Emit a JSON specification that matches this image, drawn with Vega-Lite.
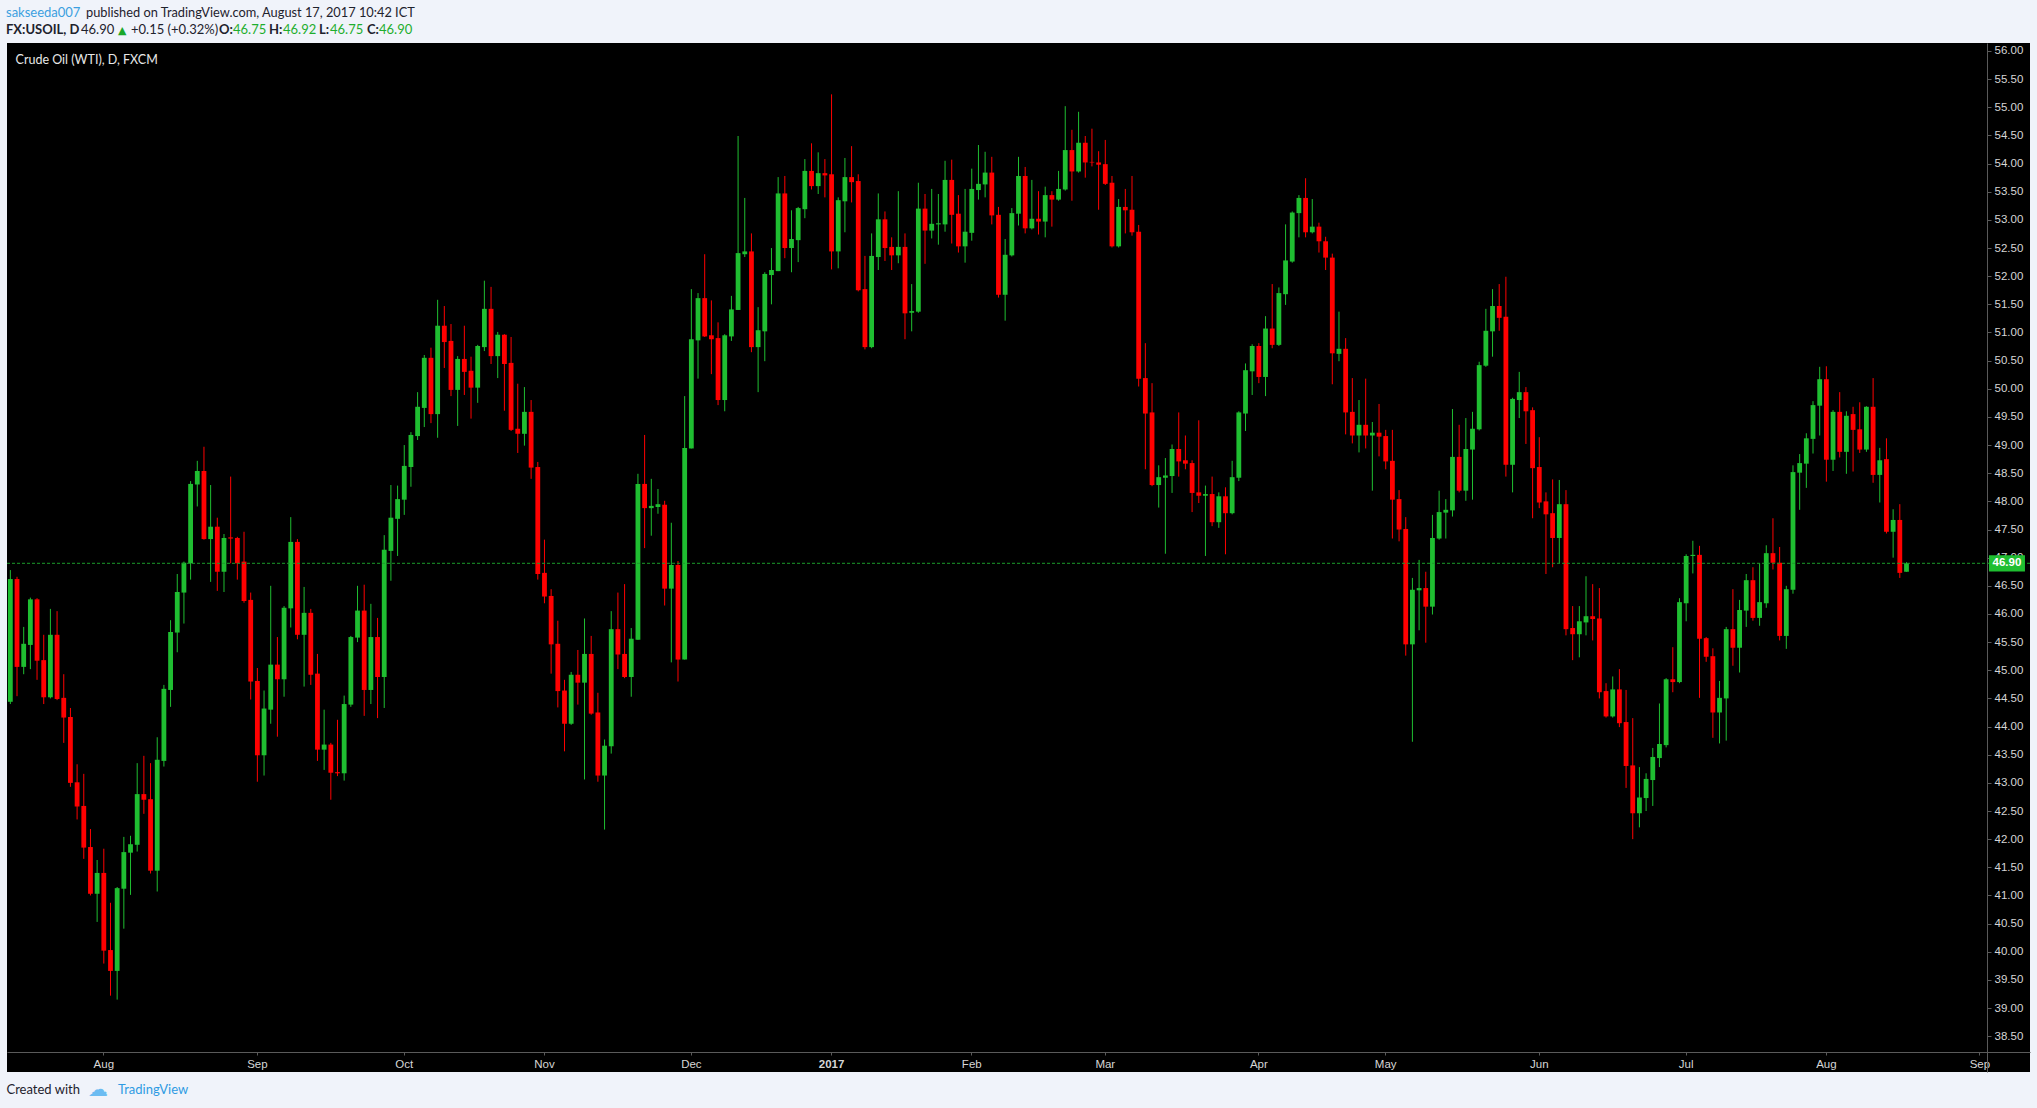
{
"$schema": "https://vega.github.io/schema/vega-lite/v6.json",
"width": 2023, "height": 1029,
"autosize": {"type": "none"},
"padding": {"left": 7, "top": 43, "right": 7, "bottom": 36},
"background": "#f0f3fa",
"config": {"view": {"fill": "#000000", "stroke": null}},
"data": {"values": [
{"date":"2016-07-12","open":44.44,"high":46.78,"low":44.40,"close":46.62},
{"date":"2016-07-13","open":46.62,"high":46.66,"low":44.54,"close":45.06},
{"date":"2016-07-14","open":45.06,"high":45.77,"low":44.93,"close":45.47},
{"date":"2016-07-15","open":45.45,"high":46.29,"low":45.02,"close":46.26},
{"date":"2016-07-18","open":46.26,"high":46.28,"low":44.83,"close":45.17},
{"date":"2016-07-19","open":45.18,"high":45.63,"low":44.40,"close":44.52},
{"date":"2016-07-20","open":44.52,"high":46.09,"low":44.50,"close":45.63},
{"date":"2016-07-21","open":45.63,"high":46.05,"low":44.47,"close":44.49},
{"date":"2016-07-22","open":44.51,"high":44.93,"low":43.71,"close":44.16},
{"date":"2016-07-25","open":44.17,"high":44.33,"low":42.93,"close":43.00},
{"date":"2016-07-26","open":43.01,"high":43.33,"low":42.35,"close":42.58},
{"date":"2016-07-27","open":42.59,"high":43.16,"low":41.65,"close":41.85},
{"date":"2016-07-28","open":41.86,"high":42.18,"low":41.00,"close":41.03},
{"date":"2016-07-29","open":41.03,"high":41.63,"low":40.53,"close":41.40},
{"date":"2016-08-01","open":41.40,"high":41.83,"low":39.79,"close":40.02},
{"date":"2016-08-02","open":40.03,"high":40.87,"low":39.22,"close":39.66},
{"date":"2016-08-03","open":39.66,"high":41.15,"low":39.15,"close":41.13},
{"date":"2016-08-04","open":41.12,"high":42.04,"low":40.41,"close":41.77},
{"date":"2016-08-05","open":41.76,"high":42.06,"low":41.01,"close":41.91},
{"date":"2016-08-08","open":41.90,"high":43.35,"low":41.78,"close":42.80},
{"date":"2016-08-09","open":42.80,"high":43.48,"low":42.45,"close":42.70},
{"date":"2016-08-10","open":42.71,"high":43.35,"low":41.39,"close":41.44},
{"date":"2016-08-11","open":41.44,"high":43.81,"low":41.07,"close":43.41},
{"date":"2016-08-12","open":43.39,"high":44.74,"low":43.29,"close":44.67},
{"date":"2016-08-15","open":44.65,"high":45.89,"low":44.35,"close":45.68},
{"date":"2016-08-16","open":45.67,"high":46.71,"low":45.32,"close":46.39},
{"date":"2016-08-17","open":46.38,"high":46.93,"low":45.83,"close":46.91},
{"date":"2016-08-18","open":46.90,"high":48.36,"low":46.61,"close":48.31},
{"date":"2016-08-19","open":48.30,"high":48.72,"low":47.91,"close":48.54},
{"date":"2016-08-22","open":48.54,"high":48.97,"low":47.32,"close":47.33},
{"date":"2016-08-23","open":47.33,"high":48.29,"low":46.57,"close":47.55},
{"date":"2016-08-24","open":47.55,"high":47.71,"low":46.41,"close":46.75},
{"date":"2016-08-25","open":46.75,"high":47.42,"low":46.39,"close":47.35},
{"date":"2016-08-26","open":47.36,"high":48.44,"low":46.90,"close":47.34},
{"date":"2016-08-29","open":47.35,"high":47.37,"low":46.61,"close":46.90},
{"date":"2016-08-30","open":46.93,"high":47.46,"low":46.20,"close":46.23},
{"date":"2016-08-31","open":46.25,"high":46.38,"low":44.48,"close":44.80},
{"date":"2016-09-01","open":44.81,"high":45.04,"low":43.02,"close":43.49},
{"date":"2016-09-02","open":43.49,"high":44.64,"low":43.13,"close":44.32},
{"date":"2016-09-05","open":44.30,"high":46.50,"low":44.05,"close":45.10},
{"date":"2016-09-06","open":45.10,"high":45.59,"low":43.82,"close":44.84},
{"date":"2016-09-07","open":44.84,"high":46.14,"low":44.53,"close":46.11},
{"date":"2016-09-08","open":46.10,"high":47.72,"low":45.76,"close":47.28},
{"date":"2016-09-09","open":47.28,"high":47.33,"low":45.55,"close":45.63},
{"date":"2016-09-12","open":45.63,"high":46.48,"low":44.71,"close":46.02},
{"date":"2016-09-13","open":46.02,"high":46.09,"low":44.74,"close":44.92},
{"date":"2016-09-14","open":44.94,"high":45.29,"low":43.39,"close":43.59},
{"date":"2016-09-15","open":43.59,"high":44.30,"low":43.23,"close":43.68},
{"date":"2016-09-16","open":43.68,"high":43.71,"low":42.70,"close":43.18},
{"date":"2016-09-19","open":43.19,"high":44.12,"low":43.12,"close":43.17},
{"date":"2016-09-20","open":43.17,"high":44.55,"low":43.04,"close":44.40},
{"date":"2016-09-21","open":44.39,"high":45.61,"low":44.35,"close":45.59},
{"date":"2016-09-22","open":45.58,"high":46.50,"low":45.50,"close":46.06},
{"date":"2016-09-23","open":46.06,"high":46.52,"low":44.19,"close":44.65},
{"date":"2016-09-26","open":44.65,"high":46.18,"low":44.40,"close":45.59},
{"date":"2016-09-27","open":45.59,"high":45.93,"low":44.15,"close":44.88},
{"date":"2016-09-28","open":44.88,"high":47.40,"low":44.33,"close":47.14},
{"date":"2016-09-29","open":47.12,"high":48.29,"low":46.59,"close":47.71},
{"date":"2016-09-30","open":47.69,"high":48.28,"low":47.03,"close":48.04},
{"date":"2016-10-03","open":48.03,"high":49.00,"low":47.76,"close":48.63},
{"date":"2016-10-04","open":48.61,"high":49.23,"low":48.26,"close":49.18},
{"date":"2016-10-05","open":49.16,"high":49.94,"low":49.09,"close":49.68},
{"date":"2016-10-06","open":49.66,"high":50.60,"low":49.32,"close":50.55},
{"date":"2016-10-07","open":50.55,"high":50.73,"low":49.39,"close":49.55},
{"date":"2016-10-10","open":49.55,"high":51.58,"low":49.13,"close":51.12},
{"date":"2016-10-11","open":51.12,"high":51.47,"low":50.37,"close":50.83},
{"date":"2016-10-12","open":50.85,"high":51.15,"low":49.87,"close":49.98},
{"date":"2016-10-13","open":49.98,"high":50.58,"low":49.34,"close":50.53},
{"date":"2016-10-14","open":50.53,"high":51.12,"low":49.89,"close":50.30},
{"date":"2016-10-17","open":50.32,"high":50.57,"low":49.47,"close":50.02},
{"date":"2016-10-18","open":50.02,"high":50.78,"low":49.75,"close":50.76},
{"date":"2016-10-19","open":50.74,"high":51.92,"low":50.67,"close":51.42},
{"date":"2016-10-20","open":51.42,"high":51.81,"low":50.44,"close":50.58},
{"date":"2016-10-21","open":50.58,"high":51.01,"low":50.19,"close":50.96},
{"date":"2016-10-24","open":50.96,"high":50.97,"low":49.61,"close":50.44},
{"date":"2016-10-25","open":50.46,"high":50.92,"low":49.25,"close":49.27},
{"date":"2016-10-26","open":49.29,"high":50.09,"low":48.86,"close":49.20},
{"date":"2016-10-27","open":49.20,"high":50.03,"low":48.99,"close":49.59},
{"date":"2016-10-28","open":49.59,"high":49.80,"low":48.40,"close":48.60},
{"date":"2016-10-31","open":48.61,"high":48.70,"low":46.61,"close":46.71},
{"date":"2016-11-01","open":46.73,"high":47.32,"low":46.19,"close":46.31},
{"date":"2016-11-02","open":46.32,"high":46.44,"low":44.94,"close":45.46},
{"date":"2016-11-03","open":45.47,"high":45.88,"low":44.34,"close":44.63},
{"date":"2016-11-04","open":44.64,"high":44.83,"low":43.56,"close":44.05},
{"date":"2016-11-07","open":44.05,"high":44.97,"low":44.03,"close":44.92},
{"date":"2016-11-08","open":44.92,"high":45.36,"low":44.39,"close":44.78},
{"date":"2016-11-09","open":44.78,"high":45.92,"low":43.06,"close":45.29},
{"date":"2016-11-10","open":45.29,"high":45.61,"low":44.21,"close":44.23},
{"date":"2016-11-11","open":44.25,"high":44.60,"low":43.02,"close":43.13},
{"date":"2016-11-14","open":43.13,"high":43.77,"low":42.17,"close":43.66},
{"date":"2016-11-15","open":43.65,"high":46.05,"low":43.52,"close":45.73},
{"date":"2016-11-16","open":45.73,"high":46.38,"low":45.02,"close":45.28},
{"date":"2016-11-17","open":45.29,"high":46.53,"low":44.86,"close":44.88},
{"date":"2016-11-18","open":44.88,"high":45.75,"low":44.53,"close":45.56},
{"date":"2016-11-21","open":45.54,"high":48.49,"low":45.54,"close":48.31},
{"date":"2016-11-22","open":48.31,"high":49.18,"low":47.17,"close":47.88},
{"date":"2016-11-23","open":47.88,"high":48.40,"low":47.39,"close":47.92},
{"date":"2016-11-24","open":47.90,"high":48.22,"low":47.78,"close":47.95},
{"date":"2016-11-25","open":47.94,"high":48.01,"low":46.15,"close":46.45},
{"date":"2016-11-28","open":46.45,"high":47.62,"low":45.14,"close":46.87},
{"date":"2016-11-29","open":46.87,"high":46.94,"low":44.80,"close":45.19},
{"date":"2016-11-30","open":45.19,"high":49.87,"low":45.19,"close":48.95},
{"date":"2016-12-01","open":48.94,"high":51.77,"low":48.94,"close":50.88},
{"date":"2016-12-02","open":50.86,"high":51.70,"low":50.18,"close":51.61},
{"date":"2016-12-05","open":51.61,"high":52.39,"low":50.92,"close":50.93},
{"date":"2016-12-06","open":50.95,"high":51.57,"low":50.26,"close":50.88},
{"date":"2016-12-07","open":50.90,"high":51.18,"low":49.71,"close":49.80},
{"date":"2016-12-08","open":49.80,"high":50.97,"low":49.60,"close":50.95},
{"date":"2016-12-09","open":50.93,"high":51.65,"low":50.85,"close":51.41},
{"date":"2016-12-12","open":51.40,"high":54.49,"low":51.40,"close":52.41},
{"date":"2016-12-13","open":52.39,"high":53.39,"low":52.34,"close":52.44},
{"date":"2016-12-14","open":52.44,"high":52.76,"low":50.65,"close":50.74},
{"date":"2016-12-15","open":50.74,"high":51.45,"low":49.94,"close":51.04},
{"date":"2016-12-16","open":51.02,"high":52.07,"low":50.49,"close":52.04},
{"date":"2016-12-19","open":52.02,"high":52.50,"low":51.50,"close":52.11},
{"date":"2016-12-20","open":52.09,"high":53.76,"low":52.09,"close":53.47},
{"date":"2016-12-21","open":53.47,"high":53.78,"low":52.32,"close":52.50},
{"date":"2016-12-22","open":52.50,"high":53.17,"low":52.07,"close":52.66},
{"date":"2016-12-23","open":52.64,"high":53.23,"low":52.25,"close":53.21},
{"date":"2016-12-27","open":53.19,"high":54.08,"low":53.03,"close":53.87},
{"date":"2016-12-28","open":53.87,"high":54.36,"low":53.54,"close":53.60},
{"date":"2016-12-29","open":53.60,"high":54.20,"low":53.46,"close":53.83},
{"date":"2016-12-30","open":53.83,"high":54.08,"low":53.40,"close":53.79},
{"date":"2017-01-03","open":53.81,"high":55.23,"low":52.12,"close":52.44},
{"date":"2017-01-04","open":52.44,"high":53.40,"low":52.14,"close":53.35},
{"date":"2017-01-05","open":53.33,"high":54.10,"low":52.78,"close":53.76},
{"date":"2017-01-06","open":53.76,"high":54.31,"low":53.31,"close":53.67},
{"date":"2017-01-09","open":53.69,"high":53.81,"low":51.73,"close":51.75},
{"date":"2017-01-10","open":51.77,"high":52.36,"low":50.70,"close":50.74},
{"date":"2017-01-11","open":50.74,"high":52.76,"low":50.72,"close":52.36},
{"date":"2017-01-12","open":52.34,"high":53.47,"low":52.11,"close":53.01},
{"date":"2017-01-13","open":53.01,"high":53.15,"low":52.27,"close":52.50},
{"date":"2017-01-16","open":52.52,"high":52.69,"low":52.11,"close":52.37},
{"date":"2017-01-17","open":52.37,"high":53.51,"low":52.23,"close":52.52},
{"date":"2017-01-18","open":52.52,"high":52.76,"low":50.88,"close":51.34},
{"date":"2017-01-19","open":51.35,"high":51.86,"low":51.02,"close":51.38},
{"date":"2017-01-20","open":51.37,"high":53.66,"low":51.35,"close":53.20},
{"date":"2017-01-23","open":53.20,"high":53.46,"low":52.22,"close":52.81},
{"date":"2017-01-24","open":52.81,"high":53.55,"low":52.67,"close":52.93},
{"date":"2017-01-25","open":52.92,"high":53.46,"low":52.56,"close":52.94},
{"date":"2017-01-26","open":52.92,"high":54.05,"low":52.79,"close":53.71},
{"date":"2017-01-27","open":53.71,"high":54.07,"low":52.58,"close":53.09},
{"date":"2017-01-30","open":53.11,"high":53.44,"low":52.42,"close":52.53},
{"date":"2017-01-31","open":52.53,"high":53.55,"low":52.24,"close":52.79},
{"date":"2017-02-01","open":52.77,"high":53.91,"low":52.63,"close":53.55},
{"date":"2017-02-02","open":53.53,"high":54.33,"low":53.36,"close":53.64},
{"date":"2017-02-03","open":53.63,"high":54.21,"low":53.40,"close":53.84},
{"date":"2017-02-06","open":53.84,"high":54.12,"low":52.92,"close":53.08},
{"date":"2017-02-07","open":53.09,"high":53.23,"low":51.62,"close":51.67},
{"date":"2017-02-08","open":51.67,"high":52.66,"low":51.21,"close":52.38},
{"date":"2017-02-09","open":52.37,"high":53.21,"low":52.35,"close":53.12},
{"date":"2017-02-10","open":53.11,"high":54.12,"low":52.90,"close":53.78},
{"date":"2017-02-13","open":53.78,"high":53.94,"low":52.76,"close":52.85},
{"date":"2017-02-14","open":52.85,"high":53.71,"low":52.83,"close":53.02},
{"date":"2017-02-15","open":53.02,"high":53.51,"low":52.74,"close":52.97},
{"date":"2017-02-16","open":52.97,"high":53.59,"low":52.69,"close":53.44},
{"date":"2017-02-17","open":53.44,"high":53.51,"low":52.88,"close":53.36},
{"date":"2017-02-20","open":53.36,"high":53.87,"low":53.34,"close":53.55},
{"date":"2017-02-21","open":53.54,"high":55.02,"low":53.52,"close":54.24},
{"date":"2017-02-22","open":54.24,"high":54.60,"low":53.34,"close":53.86},
{"date":"2017-02-23","open":53.86,"high":54.92,"low":53.84,"close":54.37},
{"date":"2017-02-24","open":54.37,"high":54.49,"low":53.75,"close":54.02},
{"date":"2017-02-27","open":54.03,"high":54.62,"low":53.95,"close":54.02},
{"date":"2017-02-28","open":54.02,"high":54.22,"low":53.18,"close":53.98},
{"date":"2017-03-01","open":53.99,"high":54.42,"low":53.62,"close":53.64},
{"date":"2017-03-02","open":53.66,"high":53.78,"low":52.51,"close":52.53},
{"date":"2017-03-03","open":52.53,"high":53.37,"low":52.51,"close":53.23},
{"date":"2017-03-06","open":53.23,"high":53.55,"low":52.76,"close":53.17},
{"date":"2017-03-07","open":53.18,"high":53.78,"low":52.72,"close":52.78},
{"date":"2017-03-08","open":52.79,"high":52.91,"low":50.04,"close":50.18},
{"date":"2017-03-09","open":50.19,"high":50.81,"low":48.57,"close":49.56},
{"date":"2017-03-10","open":49.58,"high":50.10,"low":48.27,"close":48.29},
{"date":"2017-03-13","open":48.29,"high":48.64,"low":47.89,"close":48.43},
{"date":"2017-03-14","open":48.42,"high":48.77,"low":47.07,"close":48.46},
{"date":"2017-03-15","open":48.45,"high":49.01,"low":48.15,"close":48.93},
{"date":"2017-03-16","open":48.93,"high":49.58,"low":48.44,"close":48.71},
{"date":"2017-03-17","open":48.73,"high":49.17,"low":48.57,"close":48.67},
{"date":"2017-03-20","open":48.68,"high":48.73,"low":47.81,"close":48.15},
{"date":"2017-03-21","open":48.16,"high":49.44,"low":47.97,"close":48.10},
{"date":"2017-03-22","open":48.10,"high":48.28,"low":47.03,"close":48.13},
{"date":"2017-03-23","open":48.13,"high":48.44,"low":47.56,"close":47.63},
{"date":"2017-03-24","open":47.63,"high":48.16,"low":47.53,"close":48.09},
{"date":"2017-03-27","open":48.09,"high":48.25,"low":47.06,"close":47.79},
{"date":"2017-03-28","open":47.79,"high":48.72,"low":47.77,"close":48.43},
{"date":"2017-03-29","open":48.42,"high":49.60,"low":48.36,"close":49.58},
{"date":"2017-03-30","open":49.56,"high":50.45,"low":49.25,"close":50.33},
{"date":"2017-03-31","open":50.31,"high":50.79,"low":49.89,"close":50.76},
{"date":"2017-04-03","open":50.76,"high":50.81,"low":50.10,"close":50.21},
{"date":"2017-04-04","open":50.21,"high":51.29,"low":49.87,"close":51.07},
{"date":"2017-04-05","open":51.07,"high":51.86,"low":50.72,"close":50.78},
{"date":"2017-04-06","open":50.78,"high":51.80,"low":50.76,"close":51.70},
{"date":"2017-04-07","open":51.68,"high":52.92,"low":51.49,"close":52.28},
{"date":"2017-04-10","open":52.26,"high":53.15,"low":52.24,"close":53.13},
{"date":"2017-04-11","open":53.12,"high":53.44,"low":52.69,"close":53.39},
{"date":"2017-04-12","open":53.39,"high":53.74,"low":52.69,"close":52.78},
{"date":"2017-04-13","open":52.78,"high":53.37,"low":52.76,"close":52.88},
{"date":"2017-04-17","open":52.88,"high":52.95,"low":52.42,"close":52.62},
{"date":"2017-04-18","open":52.62,"high":52.70,"low":52.11,"close":52.33},
{"date":"2017-04-19","open":52.33,"high":52.40,"low":50.08,"close":50.63},
{"date":"2017-04-20","open":50.62,"high":51.37,"low":50.49,"close":50.71},
{"date":"2017-04-21","open":50.71,"high":50.90,"low":49.19,"close":49.58},
{"date":"2017-04-24","open":49.59,"high":50.19,"low":49.03,"close":49.17},
{"date":"2017-04-25","open":49.17,"high":49.80,"low":48.87,"close":49.36},
{"date":"2017-04-26","open":49.36,"high":50.18,"low":48.94,"close":49.17},
{"date":"2017-04-27","open":49.17,"high":49.41,"low":48.19,"close":49.22},
{"date":"2017-04-28","open":49.22,"high":49.73,"low":48.80,"close":49.15},
{"date":"2017-05-01","open":49.16,"high":49.27,"low":48.57,"close":48.71},
{"date":"2017-05-02","open":48.72,"high":49.27,"low":47.34,"close":48.03},
{"date":"2017-05-03","open":48.04,"high":48.20,"low":47.29,"close":47.50},
{"date":"2017-05-04","open":47.51,"high":47.72,"low":45.26,"close":45.46},
{"date":"2017-05-05","open":45.46,"high":46.64,"low":43.73,"close":46.43},
{"date":"2017-05-08","open":46.42,"high":46.96,"low":45.71,"close":46.46},
{"date":"2017-05-09","open":46.46,"high":46.75,"low":45.49,"close":46.13},
{"date":"2017-05-10","open":46.13,"high":47.76,"low":45.99,"close":47.35},
{"date":"2017-05-11","open":47.34,"high":48.19,"low":47.32,"close":47.81},
{"date":"2017-05-12","open":47.80,"high":48.04,"low":47.34,"close":47.85},
{"date":"2017-05-15","open":47.84,"high":49.64,"low":47.73,"close":48.79},
{"date":"2017-05-16","open":48.79,"high":49.36,"low":48.16,"close":48.19},
{"date":"2017-05-17","open":48.19,"high":49.48,"low":48.01,"close":48.93},
{"date":"2017-05-18","open":48.92,"high":49.59,"low":48.03,"close":49.29},
{"date":"2017-05-19","open":49.28,"high":50.48,"low":49.26,"close":50.42},
{"date":"2017-05-22","open":50.41,"high":51.42,"low":50.39,"close":51.03},
{"date":"2017-05-23","open":51.02,"high":51.77,"low":50.57,"close":51.47},
{"date":"2017-05-24","open":51.47,"high":51.86,"low":51.03,"close":51.26},
{"date":"2017-05-25","open":51.28,"high":51.99,"low":48.44,"close":48.65},
{"date":"2017-05-26","open":48.65,"high":49.84,"low":48.16,"close":49.82},
{"date":"2017-05-29","open":49.80,"high":50.30,"low":49.48,"close":49.94},
{"date":"2017-05-30","open":49.94,"high":50.03,"low":49.02,"close":49.60},
{"date":"2017-05-31","open":49.62,"high":49.67,"low":47.70,"close":48.59},
{"date":"2017-06-01","open":48.61,"high":49.14,"low":47.88,"close":47.98},
{"date":"2017-06-02","open":48.00,"high":48.16,"low":46.71,"close":47.77},
{"date":"2017-06-05","open":47.79,"high":48.39,"low":46.83,"close":47.35},
{"date":"2017-06-06","open":47.35,"high":48.38,"low":46.90,"close":47.95},
{"date":"2017-06-07","open":47.95,"high":48.20,"low":45.62,"close":45.73},
{"date":"2017-06-08","open":45.75,"high":46.14,"low":45.18,"close":45.64},
{"date":"2017-06-09","open":45.64,"high":46.14,"low":45.23,"close":45.87},
{"date":"2017-06-12","open":45.85,"high":46.67,"low":45.62,"close":45.96},
{"date":"2017-06-13","open":45.96,"high":46.53,"low":45.53,"close":45.91},
{"date":"2017-06-14","open":45.92,"high":46.46,"low":44.50,"close":44.61},
{"date":"2017-06-15","open":44.63,"high":44.77,"low":44.16,"close":44.18},
{"date":"2017-06-16","open":44.18,"high":44.89,"low":44.16,"close":44.66},
{"date":"2017-06-19","open":44.66,"high":45.02,"low":43.99,"close":44.06},
{"date":"2017-06-20","open":44.08,"high":44.65,"low":42.91,"close":43.30},
{"date":"2017-06-21","open":43.31,"high":44.15,"low":42.00,"close":42.46},
{"date":"2017-06-22","open":42.46,"high":43.28,"low":42.21,"close":42.74},
{"date":"2017-06-23","open":42.73,"high":43.17,"low":42.50,"close":43.07},
{"date":"2017-06-26","open":43.05,"high":43.62,"low":42.59,"close":43.46},
{"date":"2017-06-27","open":43.44,"high":44.41,"low":43.28,"close":43.69},
{"date":"2017-06-28","open":43.67,"high":44.86,"low":43.63,"close":44.84},
{"date":"2017-06-29","open":44.84,"high":45.41,"low":44.61,"close":44.79},
{"date":"2017-06-30","open":44.79,"high":46.28,"low":44.77,"close":46.21},
{"date":"2017-07-03","open":46.19,"high":47.06,"low":45.87,"close":47.03},
{"date":"2017-07-04","open":47.03,"high":47.30,"low":46.72,"close":47.05},
{"date":"2017-07-05","open":47.05,"high":47.21,"low":44.51,"close":45.56},
{"date":"2017-07-06","open":45.57,"high":45.59,"low":45.15,"close":45.24},
{"date":"2017-07-07","open":45.25,"high":45.39,"low":43.80,"close":44.25},
{"date":"2017-07-10","open":44.25,"high":44.81,"low":43.70,"close":44.51},
{"date":"2017-07-11","open":44.50,"high":45.77,"low":43.75,"close":45.73},
{"date":"2017-07-12","open":45.73,"high":46.44,"low":45.08,"close":45.40},
{"date":"2017-07-13","open":45.40,"high":46.25,"low":44.96,"close":46.07},
{"date":"2017-07-14","open":46.06,"high":46.71,"low":45.77,"close":46.60},
{"date":"2017-07-17","open":46.60,"high":46.83,"low":45.88,"close":45.93},
{"date":"2017-07-18","open":45.93,"high":46.90,"low":45.79,"close":46.21},
{"date":"2017-07-19","open":46.19,"high":47.22,"low":46.11,"close":47.08},
{"date":"2017-07-20","open":47.08,"high":47.70,"low":46.79,"close":46.91},
{"date":"2017-07-21","open":46.91,"high":47.19,"low":45.53,"close":45.61},
{"date":"2017-07-24","open":45.61,"high":46.50,"low":45.38,"close":46.44},
{"date":"2017-07-25","open":46.43,"high":48.64,"low":46.36,"close":48.52},
{"date":"2017-07-26","open":48.51,"high":48.84,"low":47.85,"close":48.68},
{"date":"2017-07-27","open":48.67,"high":49.21,"low":48.24,"close":49.12},
{"date":"2017-07-28","open":49.11,"high":49.78,"low":48.85,"close":49.71},
{"date":"2017-07-31","open":49.70,"high":50.39,"low":49.17,"close":50.17},
{"date":"2017-08-01","open":50.17,"high":50.40,"low":48.35,"close":48.74},
{"date":"2017-08-02","open":48.74,"high":49.62,"low":48.54,"close":49.59},
{"date":"2017-08-03","open":49.59,"high":49.94,"low":48.78,"close":48.88},
{"date":"2017-08-04","open":48.88,"high":49.60,"low":48.49,"close":49.52},
{"date":"2017-08-07","open":49.55,"high":49.68,"low":48.53,"close":49.27},
{"date":"2017-08-08","open":49.28,"high":49.76,"low":48.86,"close":48.92},
{"date":"2017-08-09","open":48.92,"high":49.69,"low":48.88,"close":49.68},
{"date":"2017-08-10","open":49.68,"high":50.19,"low":48.33,"close":48.47},
{"date":"2017-08-11","open":48.47,"high":48.95,"low":47.98,"close":48.73},
{"date":"2017-08-14","open":48.75,"high":49.12,"low":47.43,"close":47.46},
{"date":"2017-08-15","open":47.46,"high":47.86,"low":47.00,"close":47.67},
{"date":"2017-08-16","open":47.67,"high":47.95,"low":46.64,"close":46.73},
{"date":"2017-08-17","open":46.75,"high":46.92,"low":46.75,"close":46.90}
]},
"encoding": {
  "x": {"field": "date", "type": "ordinal",
    "scale": {"type": "band", "paddingInner": 0, "paddingOuter": 0, "round": false,
      "domain": ["2016-07-12","2016-07-13","2016-07-14","2016-07-15","2016-07-18","2016-07-19","2016-07-20","2016-07-21","2016-07-22","2016-07-25","2016-07-26","2016-07-27","2016-07-28","2016-07-29",
"2016-08-01","2016-08-02","2016-08-03","2016-08-04","2016-08-05","2016-08-08","2016-08-09","2016-08-10","2016-08-11","2016-08-12","2016-08-15","2016-08-16","2016-08-17","2016-08-18","2016-08-19","2016-08-22","2016-08-23","2016-08-24","2016-08-25","2016-08-26","2016-08-29","2016-08-30","2016-08-31",
"2016-09-01","2016-09-02","2016-09-05","2016-09-06","2016-09-07","2016-09-08","2016-09-09","2016-09-12","2016-09-13","2016-09-14","2016-09-15","2016-09-16","2016-09-19","2016-09-20","2016-09-21","2016-09-22","2016-09-23","2016-09-26","2016-09-27","2016-09-28","2016-09-29","2016-09-30",
"2016-10-03","2016-10-04","2016-10-05","2016-10-06","2016-10-07","2016-10-10","2016-10-11","2016-10-12","2016-10-13","2016-10-14","2016-10-17","2016-10-18","2016-10-19","2016-10-20","2016-10-21","2016-10-24","2016-10-25","2016-10-26","2016-10-27","2016-10-28","2016-10-31",
"2016-11-01","2016-11-02","2016-11-03","2016-11-04","2016-11-07","2016-11-08","2016-11-09","2016-11-10","2016-11-11","2016-11-14","2016-11-15","2016-11-16","2016-11-17","2016-11-18","2016-11-21","2016-11-22","2016-11-23","2016-11-24","2016-11-25","2016-11-28","2016-11-29","2016-11-30",
"2016-12-01","2016-12-02","2016-12-05","2016-12-06","2016-12-07","2016-12-08","2016-12-09","2016-12-12","2016-12-13","2016-12-14","2016-12-15","2016-12-16","2016-12-19","2016-12-20","2016-12-21","2016-12-22","2016-12-23","2016-12-27","2016-12-28","2016-12-29","2016-12-30",
"2017-01-03","2017-01-04","2017-01-05","2017-01-06","2017-01-09","2017-01-10","2017-01-11","2017-01-12","2017-01-13","2017-01-16","2017-01-17","2017-01-18","2017-01-19","2017-01-20","2017-01-23","2017-01-24","2017-01-25","2017-01-26","2017-01-27","2017-01-30","2017-01-31",
"2017-02-01","2017-02-02","2017-02-03","2017-02-06","2017-02-07","2017-02-08","2017-02-09","2017-02-10","2017-02-13","2017-02-14","2017-02-15","2017-02-16","2017-02-17","2017-02-20","2017-02-21","2017-02-22","2017-02-23","2017-02-24","2017-02-27","2017-02-28",
"2017-03-01","2017-03-02","2017-03-03","2017-03-06","2017-03-07","2017-03-08","2017-03-09","2017-03-10","2017-03-13","2017-03-14","2017-03-15","2017-03-16","2017-03-17","2017-03-20","2017-03-21","2017-03-22","2017-03-23","2017-03-24","2017-03-27","2017-03-28","2017-03-29","2017-03-30","2017-03-31",
"2017-04-03","2017-04-04","2017-04-05","2017-04-06","2017-04-07","2017-04-10","2017-04-11","2017-04-12","2017-04-13","2017-04-17","2017-04-18","2017-04-19","2017-04-20","2017-04-21","2017-04-24","2017-04-25","2017-04-26","2017-04-27","2017-04-28",
"2017-05-01","2017-05-02","2017-05-03","2017-05-04","2017-05-05","2017-05-08","2017-05-09","2017-05-10","2017-05-11","2017-05-12","2017-05-15","2017-05-16","2017-05-17","2017-05-18","2017-05-19","2017-05-22","2017-05-23","2017-05-24","2017-05-25","2017-05-26","2017-05-29","2017-05-30","2017-05-31",
"2017-06-01","2017-06-02","2017-06-05","2017-06-06","2017-06-07","2017-06-08","2017-06-09","2017-06-12","2017-06-13","2017-06-14","2017-06-15","2017-06-16","2017-06-19","2017-06-20","2017-06-21","2017-06-22","2017-06-23","2017-06-26","2017-06-27","2017-06-28","2017-06-29","2017-06-30",
"2017-07-03","2017-07-04","2017-07-05","2017-07-06","2017-07-07","2017-07-10","2017-07-11","2017-07-12","2017-07-13","2017-07-14","2017-07-17","2017-07-18","2017-07-19","2017-07-20","2017-07-21","2017-07-24","2017-07-25","2017-07-26","2017-07-27","2017-07-28","2017-07-31",
"2017-08-01","2017-08-02","2017-08-03","2017-08-04","2017-08-07","2017-08-08","2017-08-09","2017-08-10","2017-08-11","2017-08-14","2017-08-15","2017-08-16","2017-08-17","2017-08-18","2017-08-21","2017-08-22","2017-08-23","2017-08-24","2017-08-25","2017-08-28","2017-08-29","2017-08-30","2017-08-31",
"2017-09-01","2017-09-04","2017-09-05","2017-09-06","2017-09-07","2017-09-08","2017-09-11","2017-09-12"]},
    "axis": {"orient": "bottom", "offset": -20, "title": null, "grid": false,
      "values": ["2016-08-01","2016-09-01","2016-10-03","2016-11-01","2016-12-01","2017-01-03","2017-02-01","2017-03-01","2017-04-03","2017-05-01","2017-06-01","2017-07-03","2017-08-01","2017-09-01"],
      "labelExpr": "datum.value == '2017-01-03' ? '2017' : ['Jan','Feb','Mar','Apr','May','Jun','Jul','Aug','Sep','Oct','Nov','Dec'][toNumber(slice(datum.value, 5, 7)) - 1]",
      "labelFontWeight": {"expr": "datum.value == '2017-01-03' ? 'bold' : 'normal'"},
      "labelAngle": 0, "labelAlign": "center", "labelBaseline": "top", "labelPadding": 3,
      "labelColor": "#d6d6d6", "labelFont": "Liberation Sans", "labelFontSize": 11.5,
      "labelOverlap": false, "labelBound": false, "labelFlush": false,
      "ticks": true, "tickSize": 3, "tickColor": "#5a5a5a", "domainColor": "#5a5a5a"}},
  "y": {"type": "quantitative",
    "scale": {"domain": [37.864, 56.142], "nice": false, "zero": false},
    "axis": {"orient": "right", "offset": -43, "title": null, "grid": false, "zindex": 0,
      "values": [38.5,39,39.5,40,40.5,41,41.5,42,42.5,43,43.5,44,44.5,45,45.5,46,46.5,47,47.5,48,48.5,49,49.5,50,50.5,51,51.5,52,52.5,53,53.5,54,54.5,55,55.5,56],
      "format": ".2f", "labelColor": "#d6d6d6", "labelFont": "Liberation Sans", "labelFontSize": 11.5,
      "labelPadding": 3, "tickSize": 4, "tickColor": "#5a5a5a", "domainColor": "#5a5a5a",
      "labelOverlap": false, "labelBound": false}}
},
"layer": [
  {"mark": {"type": "rule", "strokeWidth": 1},
   "encoding": {"y": {"field": "low", "type": "quantitative"}, "y2": {"field": "high"},
     "color": {"condition": {"test": "datum.close >= datum.open", "value": "#1fbe31"}, "value": "#ff0000"}}},
  {"mark": {"type": "bar", "width": {"band": 0.72}},
   "encoding": {"y": {"field": "open", "type": "quantitative"}, "y2": {"field": "close"},
     "color": {"condition": {"test": "datum.close >= datum.open", "value": "#1fbe31"}, "value": "#ff0000"}}},
  {"data": {"values": [{"price": 46.9}]},
   "mark": {"type": "rule", "color": "#1b9c2b", "strokeDash": [3, 2], "strokeWidth": 1},
   "encoding": {"x": null, "y": {"field": "price", "type": "quantitative"}}},
  {"data": {"values": [{"price": 46.9}]},
   "mark": {"type": "point", "shape": "M-1,-0.45L1,-0.45L1,0.45L-1,0.45Z", "filled": true, "size": 1296, "opacity": 1, "color": "#1fbe31", "xOffset": 23.7},
   "encoding": {"x": {"datum": "2017-09-04", "type": "ordinal", "bandPosition": 0}, "y": {"field": "price", "type": "quantitative"}}},
  {"data": {"values": [{"price": 46.9}]},
   "mark": {"type": "text", "text": "46.90", "color": "#ffffff", "font": "Liberation Sans", "fontSize": 11.5, "fontWeight": "bold", "align": "center", "baseline": "middle", "dx": 23.7},
   "encoding": {"x": {"datum": "2017-09-04", "type": "ordinal", "bandPosition": 0}, "y": {"field": "price", "type": "quantitative"}}},
  {"data": {"values": [{}]},
   "mark": {"type": "text", "text": "Crude Oil (WTI), D, FXCM", "color": "#e8e8e8", "font": "Lato", "fontSize": 12.5, "align": "left", "baseline": "alphabetic", "dx": 8.6, "dy": 21},
   "encoding": {"x": {"datum": "2016-07-12", "type": "ordinal", "bandPosition": 0}, "y": {"datum": 56.142, "type": "quantitative"}}},
  {"data": {"values": [{}]},
   "mark": {"type": "text", "text": "sakseeda007", "color": "#3b9fe0", "font": "Lato", "fontSize": 13, "align": "left", "baseline": "alphabetic", "dx": -1, "dy": -26.3},
   "encoding": {"x": {"datum": "2016-07-12", "type": "ordinal", "bandPosition": 0}, "y": {"datum": 56.142, "type": "quantitative"}}},
  {"data": {"values": [{}]},
   "mark": {"type": "text", "text": "published on TradingView.com, August 17, 2017 10:42 ICT", "color": "#1e222d", "font": "Lato", "fontSize": 12.8, "align": "left", "baseline": "alphabetic", "dx": 79, "dy": -26.3},
   "encoding": {"x": {"datum": "2016-07-12", "type": "ordinal", "bandPosition": 0}, "y": {"datum": 56.142, "type": "quantitative"}}},
  {"data": {"values": [{}]},
   "mark": {"type": "text", "text": "FX:USOIL, D", "color": "#1e222d", "font": "Lato", "fontSize": 13, "fontWeight": "bold", "align": "left", "baseline": "alphabetic", "dx": -1, "dy": -9},
   "encoding": {"x": {"datum": "2016-07-12", "type": "ordinal", "bandPosition": 0}, "y": {"datum": 56.142, "type": "quantitative"}}},
  {"data": {"values": [{}]},
   "mark": {"type": "text", "text": "46.90", "color": "#1e222d", "font": "Lato", "fontSize": 13, "align": "left", "baseline": "alphabetic", "dx": 74, "dy": -9},
   "encoding": {"x": {"datum": "2016-07-12", "type": "ordinal", "bandPosition": 0}, "y": {"datum": 56.142, "type": "quantitative"}}},
  {"data": {"values": [{}]},
   "mark": {"type": "text", "text": "▲", "color": "#1aa82a", "font": "DejaVu Sans", "fontSize": 11, "align": "left", "baseline": "alphabetic", "dx": 111, "dy": -9},
   "encoding": {"x": {"datum": "2016-07-12", "type": "ordinal", "bandPosition": 0}, "y": {"datum": 56.142, "type": "quantitative"}}},
  {"data": {"values": [{}]},
   "mark": {"type": "text", "text": "+0.15 (+0.32%)", "color": "#1e222d", "font": "Lato", "fontSize": 13, "align": "left", "baseline": "alphabetic", "dx": 124, "dy": -9},
   "encoding": {"x": {"datum": "2016-07-12", "type": "ordinal", "bandPosition": 0}, "y": {"datum": 56.142, "type": "quantitative"}}},
  {"data": {"values": [{}]},
   "mark": {"type": "text", "text": "O:", "color": "#1e222d", "font": "Lato", "fontSize": 13, "fontWeight": "bold", "align": "left", "baseline": "alphabetic", "dx": 212, "dy": -9},
   "encoding": {"x": {"datum": "2016-07-12", "type": "ordinal", "bandPosition": 0}, "y": {"datum": 56.142, "type": "quantitative"}}},
  {"data": {"values": [{}]},
   "mark": {"type": "text", "text": "46.75", "color": "#1fae2e", "font": "Lato", "fontSize": 13, "align": "left", "baseline": "alphabetic", "dx": 226, "dy": -9},
   "encoding": {"x": {"datum": "2016-07-12", "type": "ordinal", "bandPosition": 0}, "y": {"datum": 56.142, "type": "quantitative"}}},
  {"data": {"values": [{}]},
   "mark": {"type": "text", "text": "H:", "color": "#1e222d", "font": "Lato", "fontSize": 13, "fontWeight": "bold", "align": "left", "baseline": "alphabetic", "dx": 262, "dy": -9},
   "encoding": {"x": {"datum": "2016-07-12", "type": "ordinal", "bandPosition": 0}, "y": {"datum": 56.142, "type": "quantitative"}}},
  {"data": {"values": [{}]},
   "mark": {"type": "text", "text": "46.92", "color": "#1fae2e", "font": "Lato", "fontSize": 13, "align": "left", "baseline": "alphabetic", "dx": 276, "dy": -9},
   "encoding": {"x": {"datum": "2016-07-12", "type": "ordinal", "bandPosition": 0}, "y": {"datum": 56.142, "type": "quantitative"}}},
  {"data": {"values": [{}]},
   "mark": {"type": "text", "text": "L:", "color": "#1e222d", "font": "Lato", "fontSize": 13, "fontWeight": "bold", "align": "left", "baseline": "alphabetic", "dx": 312, "dy": -9},
   "encoding": {"x": {"datum": "2016-07-12", "type": "ordinal", "bandPosition": 0}, "y": {"datum": 56.142, "type": "quantitative"}}},
  {"data": {"values": [{}]},
   "mark": {"type": "text", "text": "46.75", "color": "#1fae2e", "font": "Lato", "fontSize": 13, "align": "left", "baseline": "alphabetic", "dx": 323, "dy": -9},
   "encoding": {"x": {"datum": "2016-07-12", "type": "ordinal", "bandPosition": 0}, "y": {"datum": 56.142, "type": "quantitative"}}},
  {"data": {"values": [{}]},
   "mark": {"type": "text", "text": "C:", "color": "#1e222d", "font": "Lato", "fontSize": 13, "fontWeight": "bold", "align": "left", "baseline": "alphabetic", "dx": 360, "dy": -9},
   "encoding": {"x": {"datum": "2016-07-12", "type": "ordinal", "bandPosition": 0}, "y": {"datum": 56.142, "type": "quantitative"}}},
  {"data": {"values": [{}]},
   "mark": {"type": "text", "text": "46.90", "color": "#1fae2e", "font": "Lato", "fontSize": 13, "align": "left", "baseline": "alphabetic", "dx": 372, "dy": -9},
   "encoding": {"x": {"datum": "2016-07-12", "type": "ordinal", "bandPosition": 0}, "y": {"datum": 56.142, "type": "quantitative"}}},
  {"data": {"values": [{}]},
   "mark": {"type": "text", "text": "Created with", "color": "#1e222d", "font": "Lato", "fontSize": 13, "align": "left", "baseline": "alphabetic", "dx": -0.5, "dy": 22},
   "encoding": {"x": {"datum": "2016-07-12", "type": "ordinal", "bandPosition": 0}, "y": {"datum": 37.864, "type": "quantitative"}}},
  {"data": {"values": [{}]},
   "mark": {"type": "text", "text": "☁", "color": "#6cbcf2", "font": "DejaVu Sans", "fontSize": 20, "align": "left", "baseline": "alphabetic", "dx": 81, "dy": 24},
   "encoding": {"x": {"datum": "2016-07-12", "type": "ordinal", "bandPosition": 0}, "y": {"datum": 37.864, "type": "quantitative"}}},
  {"data": {"values": [{}]},
   "mark": {"type": "text", "text": "TradingView", "color": "#2f9be3", "font": "Lato", "fontSize": 13, "align": "left", "baseline": "alphabetic", "dx": 111, "dy": 22},
   "encoding": {"x": {"datum": "2016-07-12", "type": "ordinal", "bandPosition": 0}, "y": {"datum": 37.864, "type": "quantitative"}}}
]
}
